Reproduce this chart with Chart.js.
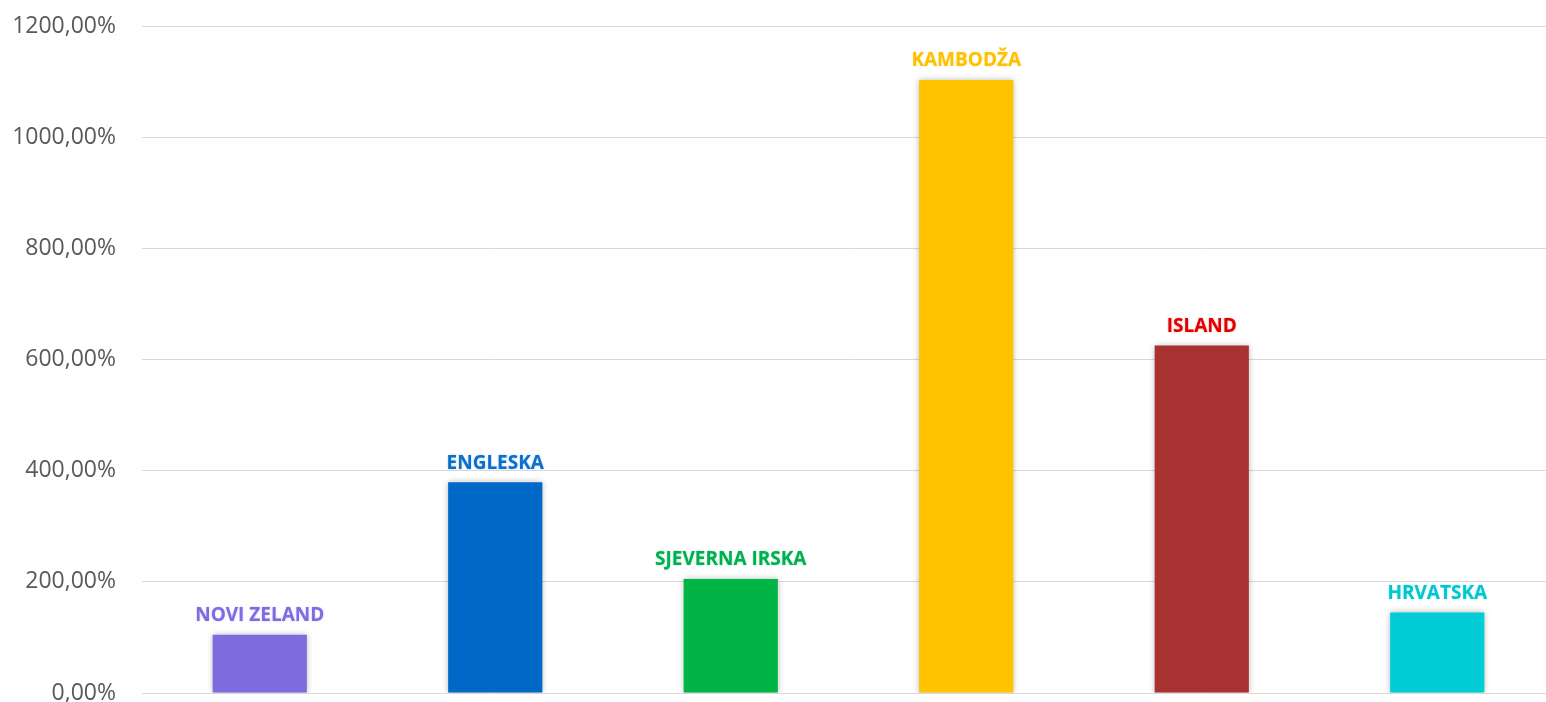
<!DOCTYPE html>
<html>
<head>
<meta charset="utf-8">
<script src="https://cdn.jsdelivr.net/npm/chart.js@4"></script>
<style>
    html, body { margin: 0; padding: 0; background: #fff; overflow: hidden; }
    #myChart { display: block; }
</style>
</head>
<body>
<canvas id="myChart" width="1556" height="702"></canvas>
<script>
// bar chart - countries growth in %

const countries = ['NOVI ZELAND', 'ENGLESKA', 'SJEVERNA IRSKA', 'KAMBODŽA', 'ISLAND', 'HRVATSKA']
const growthValues = [105, 379, 205, 1103, 625, 145]
const barColors = ['#7f6be0', '#0069c8', '#00b446', '#ffc300', '#a83232', '#00cdd6']
const labelColors = ['#7f6ce0', '#0b6fcc', '#00b050', '#ffc000', '#e00000', '#00c6d3']
const yTicks = [0, 200, 400, 600, 800, 1000, 1200]

const formatPercent = v => v.toFixed(2).replace('.', ',') + '%'

// soft shadow round the bars
const barShadow = {
    id: 'barShadow',
    beforeDatasetsDraw: (chart) => {
        const ctx = chart.ctx
        ctx.save()
        ctx.shadowColor = 'rgba(0,0,0,0.28)'
        ctx.shadowBlur = 6
        ctx.shadowOffsetX = 0
        ctx.shadowOffsetY = 0
    },
    afterDatasetsDraw: (chart) => {
        chart.ctx.restore()
    }
}

// country name above each bar
const barLabels = {
    id: 'barLabels',
    afterDatasetsDraw: (chart) => {
        const ctx = chart.ctx
        const meta = chart.getDatasetMeta(0)
        ctx.save()
        ctx.font = 'bold 19px "Open Sans"'
        ctx.textAlign = 'center'
        ctx.textBaseline = 'middle'
        meta.data.forEach((bar, i) => {
            ctx.fillStyle = labelColors[i]
            ctx.shadowColor = labelColors[i] + '66'
            ctx.shadowBlur = 2
            ctx.fillText(countries[i], bar.x, bar.y - 19)
        })
        ctx.restore()
    }
}

const data = {
    labels: countries,
    datasets: [
        {
            label: 'Rast',
            data: growthValues,
            backgroundColor: barColors,
            borderWidth: 0,
            barPercentage: 0.4,
            categoryPercentage: 1
        }
    ]
}

const config = {
    type: 'bar',
    data: data,
    plugins: [barShadow, barLabels],
    options: {
        responsive: false,
        animation: false,
        layout: {
            padding: { top: 26, bottom: 9, left: 0, right: 1 }
        },
        plugins: {
            legend: { display: false },
            tooltip: { enabled: false }
        },
        scales: {
            x: {
                display: false
            },
            y: {
                min: 0,
                max: 1200,
                afterBuildTicks: (scale) => {
                    scale.ticks = yTicks.map(v => ({ value: v }))
                },
                afterFit: (scale) => {
                    scale.width = 142
                    scale.paddingTop = 0
                    scale.paddingBottom = 0
                },
                border: { display: false },
                grid: {
                    color: '#d9d9d9',
                    lineWidth: 1,
                    drawTicks: false
                },
                ticks: {
                    padding: 26,
                    color: '#595959',
                    font: { family: '"Open Sans"', size: 23 },
                    callback: (v) => formatPercent(v)
                }
            }
        }
    }
}

new Chart(document.getElementById('myChart'), config)
</script>
</body>
</html>
